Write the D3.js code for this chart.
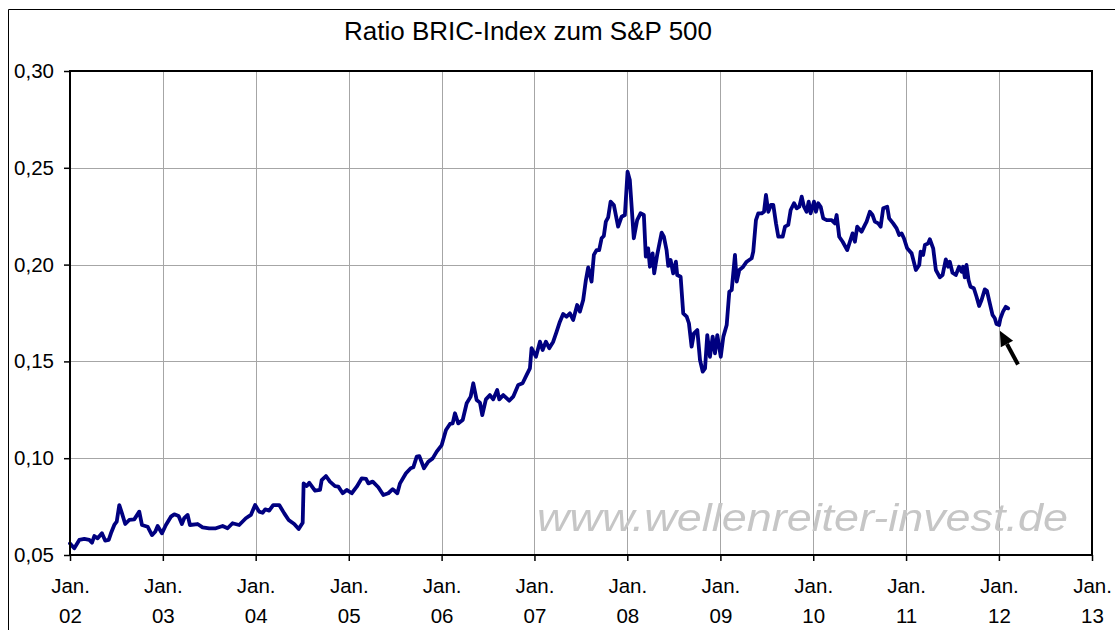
<!DOCTYPE html>
<html>
<head>
<meta charset="utf-8">
<script src="https://cdn.jsdelivr.net/npm/d3@7"></script>
<style>
  html, body { margin: 0; padding: 0; background: #fff; }
  svg { display: block; }
</style>
</head>
<body>
<div id="chart"></div>
<script>
// decimal year of each reading
var time = [
  2002.000, 2002.046, 2002.100, 2002.154, 2002.208, 2002.237, 2002.262, 2002.298, 2002.344, 2002.380,
  2002.417, 2002.441, 2002.477, 2002.503, 2002.531, 2002.560, 2002.595, 2002.638, 2002.692, 2002.746,
  2002.775, 2002.836, 2002.883, 2002.918, 2002.944, 2002.990, 2003.033, 2003.087, 2003.123, 2003.170,
  2003.205, 2003.230, 2003.267, 2003.292, 2003.374, 2003.428, 2003.499, 2003.571, 2003.644, 2003.697,
  2003.751, 2003.822, 2003.894, 2003.948, 2003.994, 2004.037, 2004.074, 2004.102, 2004.145, 2004.188,
  2004.253, 2004.307, 2004.354, 2004.414, 2004.462, 2004.505, 2004.515, 2004.548, 2004.576, 2004.637,
  2004.691, 2004.709, 2004.755, 2004.798, 2004.852, 2004.888, 2004.935, 2004.978, 2005.032, 2005.086,
  2005.140, 2005.186, 2005.211, 2005.258, 2005.318, 2005.372, 2005.426, 2005.473, 2005.523, 2005.552,
  2005.616, 2005.667, 2005.695, 2005.732, 2005.760, 2005.810, 2005.856, 2005.904, 2005.947, 2006.001,
  2006.047, 2006.090, 2006.119, 2006.144, 2006.179, 2006.227, 2006.270, 2006.313, 2006.341, 2006.377,
  2006.413, 2006.438, 2006.477, 2006.520, 2006.556, 2006.599, 2006.621, 2006.664, 2006.728, 2006.771,
  2006.825, 2006.872, 2006.916, 2006.951, 2006.969, 2007.016, 2007.059, 2007.088, 2007.123, 2007.159,
  2007.202, 2007.238, 2007.274, 2007.309, 2007.346, 2007.382, 2007.417, 2007.460, 2007.489, 2007.525,
  2007.554, 2007.579, 2007.615, 2007.640, 2007.669, 2007.697, 2007.723, 2007.747, 2007.769, 2007.794,
  2007.820, 2007.855, 2007.901, 2007.938, 2007.974, 2008.003, 2008.027, 2008.070, 2008.106, 2008.142,
  2008.178, 2008.199, 2008.224, 2008.243, 2008.272, 2008.289, 2008.321, 2008.369, 2008.393, 2008.422,
  2008.440, 2008.465, 2008.493, 2008.522, 2008.536, 2008.573, 2008.601, 2008.638, 2008.662, 2008.691,
  2008.716, 2008.752, 2008.781, 2008.810, 2008.835, 2008.859, 2008.888, 2008.917, 2008.942, 2008.967,
  2009.004, 2009.032, 2009.068, 2009.096, 2009.122, 2009.157, 2009.176, 2009.204, 2009.240, 2009.283,
  2009.337, 2009.354, 2009.383, 2009.408, 2009.445, 2009.470, 2009.491, 2009.516, 2009.545, 2009.570,
  2009.599, 2009.624, 2009.671, 2009.696, 2009.731, 2009.757, 2009.793, 2009.822, 2009.850, 2009.876,
  2009.900, 2009.929, 2009.951, 2009.972, 2010.008, 2010.029, 2010.054, 2010.080, 2010.108, 2010.145,
  2010.198, 2010.234, 2010.252, 2010.280, 2010.317, 2010.366, 2010.395, 2010.424, 2010.449, 2010.474,
  2010.521, 2010.557, 2010.575, 2010.610, 2010.639, 2010.664, 2010.700, 2010.726, 2010.754, 2010.797,
  2010.818, 2010.861, 2010.898, 2010.926, 2010.952, 2010.977, 2011.012, 2011.060, 2011.106, 2011.142,
  2011.157, 2011.184, 2011.203, 2011.238, 2011.256, 2011.292, 2011.321, 2011.364, 2011.393, 2011.428,
  2011.453, 2011.471, 2011.500, 2011.536, 2011.571, 2011.597, 2011.614, 2011.633, 2011.651, 2011.673,
  2011.694, 2011.730, 2011.759, 2011.787, 2011.813, 2011.848, 2011.871, 2011.902, 2011.931, 2011.956,
  2011.974, 2012.002, 2012.017, 2012.044, 2012.074, 2012.099
];

// ratio BRIC-Index / S&P 500
var ratio = [
  0.0560, 0.0535, 0.0578, 0.0583, 0.0578, 0.0564, 0.0598, 0.0586, 0.0612, 0.0574,
  0.0578, 0.0612, 0.0655, 0.0672, 0.0758, 0.0715, 0.0660, 0.0681, 0.0684, 0.0724,
  0.0655, 0.0646, 0.0603, 0.0620, 0.0650, 0.0612, 0.0655, 0.0698, 0.0710, 0.0701,
  0.0660, 0.0690, 0.0707, 0.0655, 0.0660, 0.0643, 0.0638, 0.0638, 0.0650, 0.0638,
  0.0664, 0.0655, 0.0690, 0.0707, 0.0758, 0.0724, 0.0718, 0.0736, 0.0729, 0.0758,
  0.0758, 0.0715, 0.0681, 0.0660, 0.0634, 0.0667, 0.0870, 0.0856, 0.0873, 0.0832,
  0.0836, 0.0887, 0.0908, 0.0879, 0.0856, 0.0853, 0.0819, 0.0836, 0.0819, 0.0853,
  0.0896, 0.0893, 0.0870, 0.0879, 0.0850, 0.0810, 0.0819, 0.0840, 0.0819, 0.0870,
  0.0922, 0.0948, 0.0953, 0.1008, 0.1011, 0.0948, 0.0982, 0.0999, 0.1034, 0.1068,
  0.1146, 0.1177, 0.1180, 0.1232, 0.1180, 0.1197, 0.1284, 0.1318, 0.1387, 0.1301,
  0.1287, 0.1223, 0.1304, 0.1326, 0.1304, 0.1352, 0.1304, 0.1326, 0.1297, 0.1318,
  0.1378, 0.1387, 0.1430, 0.1464, 0.1568, 0.1524, 0.1602, 0.1559, 0.1602, 0.1568,
  0.1602, 0.1653, 0.1705, 0.1745, 0.1731, 0.1748, 0.1714, 0.1791, 0.1757, 0.1817,
  0.1920, 0.1986, 0.1912, 0.2050, 0.2075, 0.2075, 0.2136, 0.2148, 0.2222, 0.2244,
  0.2325, 0.2308, 0.2196, 0.2247, 0.2256, 0.2480, 0.2437, 0.2136, 0.2230, 0.2265,
  0.2256, 0.2041, 0.2084, 0.1989, 0.2058, 0.1955, 0.2050, 0.2165, 0.2144, 0.2075,
  0.1993, 0.2024, 0.1955, 0.2015, 0.1946, 0.1937, 0.1748, 0.1731, 0.1697, 0.1576,
  0.1645, 0.1662, 0.1507, 0.1447, 0.1464, 0.1636, 0.1524, 0.1628, 0.1542, 0.1636,
  0.1524, 0.1628, 0.1688, 0.1860, 0.1869, 0.2050, 0.1912, 0.1972, 0.1986, 0.2015,
  0.2033, 0.2067, 0.2230, 0.2265, 0.2265, 0.2273, 0.2360, 0.2273, 0.2308, 0.2308,
  0.2213, 0.2144, 0.2144, 0.2196, 0.2205, 0.2282, 0.2317, 0.2291, 0.2299, 0.2351,
  0.2299, 0.2273, 0.2325, 0.2265, 0.2325, 0.2273, 0.2317, 0.2299, 0.2239, 0.2230,
  0.2230, 0.2213, 0.2256, 0.2144, 0.2118, 0.2075, 0.2118, 0.2161, 0.2118, 0.2196,
  0.2170, 0.2205, 0.2222, 0.2273, 0.2256, 0.2222, 0.2213, 0.2196, 0.2291, 0.2299,
  0.2239, 0.2213, 0.2187, 0.2153, 0.2161, 0.2136, 0.2084, 0.2058, 0.1972, 0.1998,
  0.2067, 0.2050, 0.2101, 0.2110, 0.2131, 0.2084, 0.1972, 0.1934, 0.1946, 0.2027,
  0.1989, 0.2015, 0.1958, 0.1946, 0.1989, 0.1963, 0.1989, 0.1934, 0.1998, 0.1920,
  0.1886, 0.1878, 0.1834, 0.1786, 0.1817, 0.1872, 0.1865, 0.1800, 0.1740, 0.1723,
  0.1693, 0.1688, 0.1723, 0.1757, 0.1782, 0.1774
];

var yTicks = [0.05, 0.10, 0.15, 0.20, 0.25, 0.30];
var xYears = [2002, 2003, 2004, 2005, 2006, 2007, 2008, 2009, 2010, 2011, 2012, 2013];

// arrow: tail and tip in data terms (decimal year, ratio)
var arrowFrom = [2012.205, 0.1484];
var arrowTo = [2012.010, 0.1658];

var titleText = 'Ratio BRIC-Index zum S&P 500';
var watermark = 'www.wellenreiter-invest.de';

(function () {

function toDate(t) {
    var yr = Math.floor(t);
    var a = new Date(yr, 0, 1), b = new Date(yr + 1, 0, 1);
    return new Date(+a + (t - yr) * (b - a));
}

var width = 1115, height = 630;
var pLeft = 70, pRight = 1092, pTop = 71, pBottom = 555;
var font = '"Liberation Sans", Arial, sans-serif';

var x = d3.scaleTime()
    .domain([new Date(2002, 0, 1), new Date(2013, 0, 1)])
    .range([pLeft, pRight]);
var y = d3.scaleLinear()
    .domain([0.05, 0.30])
    .range([pBottom, pTop]);

var locale = d3.formatLocale({decimal: ',', thousands: '.', grouping: [3], currency: ['', '€']});
var fmt = locale.format('.2f');

var svg = d3.select('#chart').append('svg')
    .attr('width', width)
    .attr('height', height);

svg.append('defs').append('filter')
    .attr('id', 'soft')
    .append('feGaussianBlur')
    .attr('stdDeviation', 0.6);

// outer frame (runs off the right and bottom edge)
svg.append('path')
    .attr('d', 'M8.5,' + height + 'V9.5H' + width)
    .attr('fill', 'none')
    .attr('stroke', '#000')
    .attr('stroke-width', 1);

svg.append('text')
    .attr('x', 528)
    .attr('y', 40)
    .attr('text-anchor', 'middle')
    .style('font-family', font)
    .style('font-size', '26px')
    .text(titleText);

// grid
var grid = svg.append('g').attr('stroke', '#a6a6a6').attr('stroke-width', 1);
grid.selectAll('line.v')
    .data(xYears.slice(1, -1))
    .enter().append('line')
    .attr('x1', function(d) { return Math.round(x(new Date(d, 0, 1))) + 0.5; })
    .attr('x2', function(d) { return Math.round(x(new Date(d, 0, 1))) + 0.5; })
    .attr('y1', pTop)
    .attr('y2', pBottom);
grid.selectAll('line.h')
    .data(yTicks.slice(1, -1))
    .enter().append('line')
    .attr('y1', function(d) { return Math.round(y(d)) + 0.5; })
    .attr('y2', function(d) { return Math.round(y(d)) + 0.5; })
    .attr('x1', pLeft)
    .attr('x2', pRight);

// watermark (glyphs stretched wide like the original)
svg.append('text')
    .attr('x', 537)
    .attr('y', 531)
    .attr('textLength', 531)
    .attr('lengthAdjust', 'spacingAndGlyphs')
    .attr('fill', '#c6c6c6')
    .attr('filter', 'url(#soft)')
    .style('font-family', font)
    .style('font-style', 'italic')
    .style('font-size', '38px')
    .text(watermark);

// series
var data = time.map(function(t, i) { return {date: toDate(t), value: ratio[i]}; });
var line = d3.line()
    .x(function(d) { return x(d.date); })
    .y(function(d) { return y(d.value); });

svg.append('path')
    .datum(data)
    .attr('d', line)
    .attr('fill', 'none')
    .attr('stroke', '#000080')
    .attr('stroke-width', 3.8)
    .attr('stroke-linejoin', 'round')
    .attr('stroke-linecap', 'round');

// plot frame
svg.append('rect')
    .attr('x', pLeft)
    .attr('y', pTop)
    .attr('width', pRight - pLeft)
    .attr('height', pBottom - pTop)
    .attr('fill', 'none')
    .attr('stroke', '#000')
    .attr('stroke-width', 2);

// y axis
var yAxis = svg.append('g')
    .attr('transform', 'translate(' + pLeft + ',0)')
    .call(d3.axisLeft(y).tickValues(yTicks).tickSize(6).tickPadding(10).tickFormat(fmt));
yAxis.select('.domain').remove();
yAxis.selectAll('line').attr('stroke', '#000').attr('stroke-width', 1.5);
yAxis.selectAll('text')
    .attr('fill', '#000')
    .style('font-family', font)
    .style('font-size', '20.5px');

// x axis, two line labels
var xAxis = svg.append('g')
    .attr('transform', 'translate(0,' + pBottom + ')')
    .call(d3.axisBottom(x)
        .tickValues(xYears.map(function(d) { return new Date(d, 0, 1); }))
        .tickSize(6)
        .tickFormat(''));
xAxis.select('.domain').remove();
xAxis.selectAll('line').attr('stroke', '#000').attr('stroke-width', 1.5);
xAxis.selectAll('.tick').each(function(d) {
    var t = d3.select(this).append('text')
        .attr('fill', '#000')
        .attr('text-anchor', 'middle')
        .style('font-family', font)
        .style('font-size', '20.5px');
    t.append('tspan').attr('x', 0).attr('y', 38).text('Jan.');
    t.append('tspan').attr('x', 0).attr('y', 68).text(d3.timeFormat('%y')(d));
});

// arrow annotation
var ax0 = x(toDate(arrowFrom[0])), ay0 = y(arrowFrom[1]);
var ax1 = x(toDate(arrowTo[0])), ay1 = y(arrowTo[1]);
var ang = Math.atan2(ay1 - ay0, ax1 - ax0);
var headLen = 15, headW = 7;
var bx = ax1 - headLen * Math.cos(ang), by = ay1 - headLen * Math.sin(ang);
svg.append('line')
    .attr('x1', ax0).attr('y1', ay0)
    .attr('x2', bx).attr('y2', by)
    .attr('stroke', '#000')
    .attr('stroke-width', 4);
svg.append('path')
    .attr('d', 'M' + ax1 + ',' + ay1 +
        'L' + (bx + headW * Math.sin(ang)) + ',' + (by - headW * Math.cos(ang)) +
        'L' + (bx - headW * Math.sin(ang)) + ',' + (by + headW * Math.cos(ang)) + 'Z')
    .attr('fill', '#000');

})();
</script>
</body>
</html>
